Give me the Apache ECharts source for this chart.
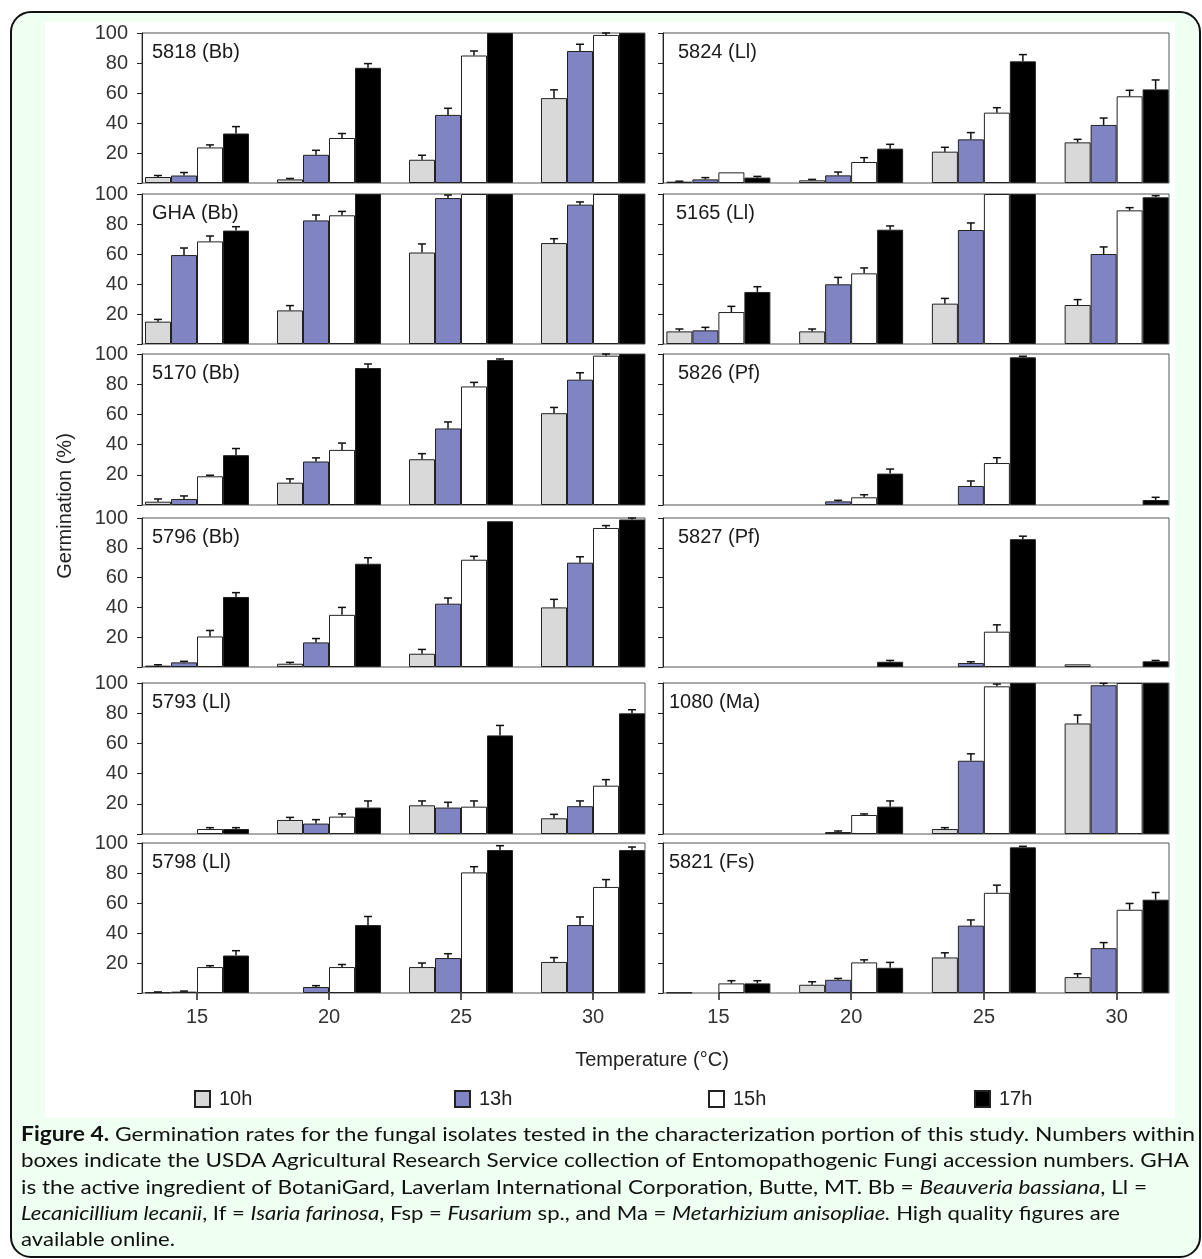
<!DOCTYPE html>
<html><head><meta charset="utf-8">
<script src="https://cdn.jsdelivr.net/npm/echarts@6/dist/echarts.min.js"></script>
<style>html,body{margin:0;padding:0;background:#fff}#c{width:1202px;height:1259px}</style>
</head><body><div id="c"></div>
<script>
// ---------------- DATA ----------------
const categories = ['15', '20', '25', '30'];          // temperature (°C)
const seriesNames = ['10h', '13h', '15h', '17h'];
const panelNames = ['5818 (Bb)', 'GHA (Bb)', '5170 (Bb)', '5796 (Bb)', '5793 (Ll)', '5798 (Ll)',
                    '5824 (Ll)', '5165 (Ll)', '5826 (Pf)', '5827 (Pf)', '1080 (Ma)', '5821 (Fs)'];

// values: [10h, 13h, 15h, 17h] each over [15, 20, 25, 30]; errors = upper error bar length
const v5818 = [[4, 2.4, 15.5, 56.6], [5, 18.8, 45.4, 88], [23.7, 30, 85, 98.7], [33, 76.8, 100, 100]];
const e5818 = [[1, 0.6, 3, 5.5], [2, 3, 4.4, 4.5], [1.7, 3, 3, 1.3], [4.6, 2.8, 0, 0]];
const vGHA = [[14.9, 22.4, 61, 67.3], [59.3, 82.4, 97.3, 92.9], [68.4, 85.8, 100, 100], [75.6, 100, 100, 100]];
const eGHA = [[1.5, 3.2, 5.7, 2.9], [4.7, 3.6, 2, 1.8], [3.6, 2.6, 0, 0], [2.6, 0, 0, 0]];
const v5170 = [[2.2, 14.8, 30.3, 60.8], [4, 28.8, 50.7, 83], [19, 36.5, 78.5, 98.9], [33, 90.7, 96, 100]];
const e5170 = [[1.8, 2.5, 3.7, 3.8], [2, 2.4, 4.3, 4.6], [0.7, 4.5, 2.7, 1.1], [4.4, 2.7, 0.7, 0]];
const v5796 = [[0.9, 2.2, 8.9, 40], [3.1, 16.5, 42.5, 70], [20.5, 35, 72, 93.3], [47, 69.3, 97.8, 99]];
const e5796 = [[0.6, 0.9, 2.9, 5.4], [0.7, 2.6, 3.8, 4], [4, 5, 2.3, 1.6], [2.9, 4, 0, 1]];
const v5793 = [[0, 9.3, 19, 10.4], [0, 6.9, 17.5, 18.4], [3.3, 11.5, 18.1, 32], [3.3, 17.5, 65.3, 79.9]];
const e5793 = [[0, 1.7, 2.9, 2.6], [0, 2.6, 3.5, 3.5], [0.9, 1.8, 3.8, 4], [0.9, 4.4, 6.6, 2.4]];
const v5798 = [[0.4, 0, 17.3, 20.7], [0.9, 4, 23.3, 45.3], [17.3, 17.3, 80.4, 70.7], [25, 45.3, 95.3, 95.3]];
const e5798 = [[0.3, 0, 2.7, 2.9], [0.4, 0.9, 2.9, 5.4], [0.9, 1.7, 3.8, 4.9], [3.2, 5.7, 2.9, 2]];
const v5824 = [[0.9, 1.8, 20.9, 27.1], [2.4, 5.1, 29.1, 38.7], [7.1, 14, 46.9, 57.8], [3.6, 22.9, 81.1, 62.4]];
const e5824 = [[0.3, 0.6, 2.9, 2], [1.2, 2.2, 4.5, 4.6], [0, 2.9, 3.3, 4], [0.8, 2.9, 4.5, 6.3]];
const v5165 = [[8.4, 8.4, 26.9, 26], [9.1, 39.8, 76, 60], [21.3, 47.1, 100, 89.1], [34.7, 76.2, 100, 97.8]];
const e5165 = [[1.6, 1.6, 3.5, 3.6], [2, 4.6, 4.7, 4.7], [3.8, 3.6, 0, 1.8], [3.5, 2.5, 0, 1.1]];
const v5826 = [[0, 0, 0, 0], [0, 2.4, 12.6, 0], [0, 5.1, 27.8, 0], [0, 20.8, 97.8, 3.3]];
const e5826 = [[0, 0, 0, 0], [0, 0.7, 3.3, 0], [0, 1.7, 3.5, 0], [0, 3, 0.7, 1.8]];
const v5827 = [[0, 0, 0, 1.8], [0, 0, 2.7, 0], [0, 0, 23.7, 0], [0, 3.5, 85.8, 3.8]];
const e5827 = [[0, 0, 0, 0], [0, 0, 0.8, 0], [0, 0, 4.6, 0], [0, 0.9, 2, 0.6]];
const v1080 = [[0, 0, 3.3, 73.2], [0, 1.3, 48.5, 98.5], [0, 12.6, 97.8, 100], [0, 18.1, 100, 100]];
const e1080 = [[0, 0, 0.9, 5.6], [0, 0.7, 4.6, 1.3], [0, 0.7, 1.5, 0], [0, 3.8, 0, 0]];
const v5821 = [[0.3, 5.5, 23.7, 10.6], [0, 8.8, 44.9, 29.9], [6.4, 20.4, 66.8, 55.5], [6.4, 16.8, 97.1, 62.2]];
const e5821 = [[0, 2, 3.1, 2.2], [0, 0.9, 3.8, 3.7], [1.8, 1.7, 5.1, 4.2], [1.8, 3.6, 0.7, 4.8]];

const panelValues = [v5818, vGHA, v5170, v5796, v5793, v5798, v5824, v5165, v5826, v5827, v1080, v5821];
const panelErrors = [e5818, eGHA, e5170, e5796, e5793, e5798, e5824, e5165, e5826, e5827, e1080, e5821];

const captionLines = [
  [{t: 'Figure 4.', b: true}, {t: ' Germination rates for the fungal isolates tested in the characterization portion of this study. Numbers within'}],
  [{t: 'boxes indicate the USDA Agricultural Research Service collection of Entomopathogenic Fungi accession numbers. GHA'}],
  [{t: 'is the active ingredient of BotaniGard, Laverlam International Corporation, Butte, MT. Bb = '}, {t: 'Beauveria bassiana', i: true}, {t: ', Ll ='}],
  [{t: 'Lecanicillium lecanii', i: true}, {t: ', If = '}, {t: 'Isaria farinosa', i: true}, {t: ', Fsp = '}, {t: 'Fusarium', i: true}, {t: ' sp., and Ma = '}, {t: 'Metarhizium anisopliae.', i: true}, {t: ' High quality figures are'}],
  [{t: 'available online.'}]
];

// ---------------- LAYOUT / STYLE ----------------
const ROW_TOP = [33, 194, 354, 518, 683, 843];
const ROW_BOTTOM = [183, 344, 505, 667, 834, 993];
const COLS = [
  {frameL: 142, frameW: 503, barL: 131, barW: 528, labelDx: [10, 10, 10, 10, 10, 10]},
  {frameL: 663, frameW: 506, barL: 652, barW: 531, labelDx: [15, 13, 15, 15, 6, 6]}
];
const BAR_W = 26;
const barColors = ['#d9d9d9', '#8184c3', '#ffffff', '#000000'];
const AX_FONT = 'Liberation Sans';
const CAP_FONT = 'Lato';
const CAP_SIZE = 20;
const CAP_Y = [1135, 1161, 1188, 1214, 1240];
const CAP_RIGHT = [1195, 1189, 1147, 1120, 175];
const CAP_LEFT = 21;
const LEGEND_LEFT = [194, 454, 708, 974];

const grids = [], xAxes = [], yAxes = [], series = [];
const graphics = [
  {type: 'rect', z: -100, shape: {x: 11, y: 12, width: 1189, height: 1245, r: 20},
   style: {fill: '#effff1', stroke: '#111', lineWidth: 2}},
  {type: 'rect', z: -99, shape: {x: 45, y: 22, width: 1130, height: 1096}, style: {fill: '#ffffff'}}
];

panelValues.forEach((vals, p) => {
  const col = p < 6 ? 0 : 1, row = p % 6;
  const L = COLS[col];
  const top = ROW_TOP[row], h = ROW_BOTTOM[row] - top;
  const fi = grids.length;
  grids.push({left: L.frameL, top: top, width: L.frameW, height: h, show: true, backgroundColor: '#fff',
              borderColor: '#555', borderWidth: 1, containLabel: false, outerBoundsMode: 'none'});
  xAxes.push({gridIndex: fi, type: 'value', min: 0, max: 1, show: false});
  yAxes.push({gridIndex: fi, type: 'value', min: 0, max: 100, interval: 20,
    axisLine: {show: true, lineStyle: {color: '#222', width: 1}},
    axisTick: {show: true, length: 5, lineStyle: {color: '#222'}},
    axisLabel: {show: col === 0, fontSize: 20, color: '#333', fontFamily: AX_FONT, margin: 14,
                formatter: v => (v === 0 ? '' : String(v))},
    splitLine: {show: false}});
  const bi = grids.length;
  grids.push({left: L.barL, top: top, width: L.barW, height: h, show: false, containLabel: false, outerBoundsMode: 'none'});
  xAxes.push({gridIndex: bi, type: 'category', data: categories,
    axisLine: {show: false},
    axisTick: {show: row === 5, alignWithLabel: true, length: 7, lineStyle: {color: '#222', width: 1.5}},
    axisLabel: {show: row === 5, fontSize: 20, color: '#333', fontFamily: AX_FONT, margin: 14},
    splitLine: {show: false}});
  yAxes.push({gridIndex: bi, type: 'value', min: 0, max: 100, show: false});

  vals.forEach((arr, s) => {
    series.push({type: 'bar', name: seriesNames[s], xAxisIndex: bi, yAxisIndex: bi,
      data: arr.map(v => (v === 0 ? '-' : v)),
      barWidth: BAR_W, barGap: '0%', silent: true, animation: false,
      itemStyle: {color: barColors[s], borderColor: '#222', borderWidth: 1}});
  });
  const errData = [];
  panelErrors[p].forEach((arr, s) => arr.forEach((e, i) => {
    if (e > 0 && vals[s][i] < 100) errData.push([i, vals[s][i], e, s]);
  }));
  series.push({type: 'custom', xAxisIndex: bi, yAxisIndex: bi, data: errData, z: 5, silent: true, animation: false,
    encode: {x: 0, y: 1},
    renderItem: (params, api) => {
      const i = api.value(0), v = api.value(1), e = api.value(2), s = api.value(3);
      const c = api.coord([i, v]);
      const t = api.coord([i, Math.min(100, v + e)]);
      const x = c[0] + (s - 1.5) * BAR_W;
      return {type: 'group', children: [
        {type: 'line', shape: {x1: x, y1: c[1], x2: x, y2: t[1]}, style: {stroke: '#111', lineWidth: 1.5}},
        {type: 'line', shape: {x1: x - 4, y1: t[1], x2: x + 4, y2: t[1]}, style: {stroke: '#111', lineWidth: 1.5}}
      ]};
    }});

  graphics.push({type: 'text', z: 10, x: L.frameL + L.labelDx[row], y: top + 19,
    style: {text: panelNames[p], font: '20px ' + AX_FONT, fill: '#1a1a1a', textVerticalAlign: 'middle'}});
});

graphics.push({type: 'text', z: 10, x: 65, y: 506, rotation: Math.PI / 2,
  style: {text: 'Germination (%)', font: '20px ' + AX_FONT, fill: '#222', textAlign: 'center', textVerticalAlign: 'middle'}});
graphics.push({type: 'text', z: 10, x: 652, y: 1060,
  style: {text: 'Temperature (°C)', font: '20px ' + AX_FONT, fill: '#222', textAlign: 'center', textVerticalAlign: 'middle'}});

// caption lines, fitted horizontally
const ctx = document.createElement('canvas').getContext('2d');
captionLines.forEach((parts, k) => {
  let w = 0, txt = '';
  parts.forEach(pt => {
    ctx.font = (pt.i ? 'italic ' : '') + (pt.b ? 'bold ' : '') + CAP_SIZE + 'px ' + CAP_FONT;
    w += ctx.measureText(pt.t).width;
    txt += pt.b ? '{b|' + pt.t + '}' : pt.i ? '{i|' + pt.t + '}' : '{n|' + pt.t + '}';
  });
  const target = CAP_RIGHT[k] - CAP_LEFT;
  const sx = Math.max(0.8, Math.min(1.2, target / w));
  graphics.push({type: 'text', z: 10, x: CAP_LEFT, y: CAP_Y[k], scaleX: sx,
    style: {text: txt, textVerticalAlign: 'middle', fill: '#111',
      rich: {
        n: {fontFamily: CAP_FONT, fontSize: CAP_SIZE, color: '#111'},
        b: {fontFamily: CAP_FONT, fontSize: CAP_SIZE, fontWeight: 'bold', color: '#111'},
        i: {fontFamily: CAP_FONT, fontSize: CAP_SIZE, fontStyle: 'italic', color: '#111'}
      }}});
});

const legends = seriesNames.map((n, k) => ({
  data: [n], left: LEGEND_LEFT[k], top: 1089, orient: 'horizontal', icon: 'rect',
  itemWidth: 15, itemHeight: 16, padding: 0,
  textStyle: {fontSize: 20, color: '#222', fontFamily: AX_FONT, padding: [0, 0, 0, 4]}
}));

const chart = echarts.init(document.getElementById('c'), null, {renderer: 'canvas'});
chart.setOption({
  animation: false,
  backgroundColor: '#ffffff',
  grid: grids, xAxis: xAxes, yAxis: yAxes, series: series,
  legend: legends,
  graphic: graphics
});
</script></body></html>
